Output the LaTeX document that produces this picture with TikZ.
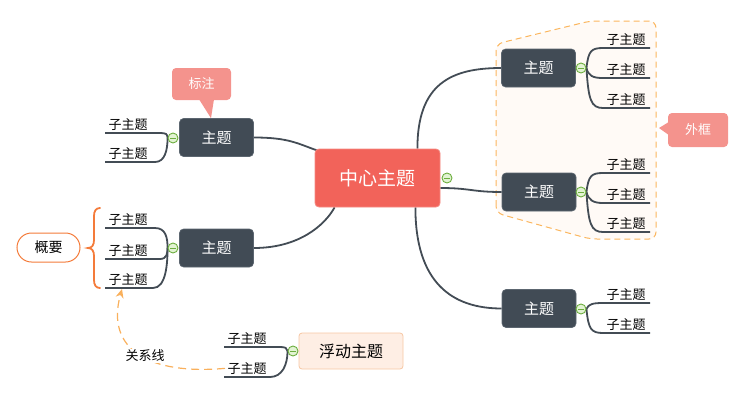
\documentclass[tikz,border=0pt]{standalone}
\usepackage{fontspec}
\newfontfamily\cjk{Noto Sans CJK SC}
\usetikzlibrary{arrows.meta,calc,backgrounds}
\definecolor{topicc}{HTML}{414B55}
\definecolor{topicb}{HTML}{5C6670}
\definecolor{centerc}{HTML}{F2635A}
\definecolor{centerb}{HTML}{F58A82}
\definecolor{callc}{HTML}{F4938D}
\definecolor{linec}{HTML}{434C55}
\definecolor{bracec}{HTML}{F47B3A}
\definecolor{bndc}{HTML}{FBB65E}
\definecolor{bndfill}{HTML}{FFFAF6}
\definecolor{relc}{HTML}{F9B05C}
\definecolor{floatc}{HTML}{FEEEE4}
\definecolor{floatb}{HTML}{F7C7A3}
\definecolor{colc}{HTML}{6DAE3F}
\definecolor{colfill}{HTML}{E2F3D3}
\begin{document}
\begin{tikzpicture}[x=1pt,y=-1pt,
  topicbox/.style={rectangle,rounded corners=4pt,fill=topicc,draw=topicb,line width=0.6pt,
    minimum width=74pt,minimum height=38pt,inner sep=0pt,text=white,font=\cjk\fontsize{15}{18}\selectfont},
  centerbox/.style={rectangle,rounded corners=4pt,fill=centerc,draw=centerb,line width=0.8pt,
    minimum width=125pt,minimum height=58pt,inner sep=0pt,text=white,font=\cjk\fontsize{19}{22}\selectfont},
  subt/.style={inner xsep=0pt,inner ysep=2.5pt,minimum width=46pt,font=\cjk\fontsize{13}{15}\selectfont,anchor=south west},
  conn/.style={draw=linec,line width=1.8pt},
  collapse/.style={circle,minimum size=10pt,inner sep=0pt,draw=colc,fill=colfill,line width=0.9pt,
    path picture={\draw[colc,line width=0.9pt] ([xshift=2.2pt]path picture bounding box.west) -- ([xshift=-2.2pt]path picture bounding box.east);}},
  callbox/.style={rectangle,rounded corners=4pt,fill=callc,inner sep=0pt,text=white,font=\cjk\fontsize{13}{15}\selectfont},
]
\useasboundingbox (0,0) rectangle (740,400);

% main nodes
\node[centerbox] (C) at (377.5,178) {中心主题};
\node[topicbox] (LT) at (216.5,137.5) {主题};
\node[topicbox] (LB) at (216.5,248) {主题};
\node[topicbox] (RT) at (538.5,68) {主题};
\node[topicbox] (RM) at (539,192) {主题};
\node[topicbox] (RB) at (539,308.5) {主题};
\node[rectangle,rounded corners=3pt,fill=floatc,draw=floatb,line width=0.8pt,minimum width=104pt,minimum height=36pt,
  font=\cjk\fontsize{16}{19}\selectfont] (F) at (351,351) {浮动主题};

% collapse buttons
\node[collapse] (cC) at (447,178) {};
\node[collapse] (cLT) at (173,138) {};
\node[collapse] (cLB) at (173,248) {};
\node[collapse] (cRT) at (581,68) {};
\node[collapse] (cRM) at (581,192) {};
\node[collapse] (cRB) at (581,309) {};
\node[collapse] (cF) at (293,351) {};

% subtopics
\node[subt] (lt1) at (105,133) {子主题};
\node[subt] (lt2) at (105,162) {子主题};
\node[subt] (lb1) at (105,228) {子主题};
\node[subt] (lb2) at (105,259) {子主题};
\node[subt] (lb3) at (105,288) {子主题};
\node[subt] (rt1) at (603,48) {子主题};
\node[subt] (rt2) at (603,78) {子主题};
\node[subt] (rt3) at (603,108) {子主题};
\node[subt] (rm1) at (603,173) {子主题};
\node[subt] (rm2) at (603,203) {子主题};
\node[subt] (rm3) at (603,232) {子主题};
\node[subt] (rb1) at (603,303) {子主题};
\node[subt] (rb2) at (603,333) {子主题};
\node[subt] (f1) at (224,347) {子主题};
\node[subt] (f2) at (224,377) {子主题};

% callouts
\node[callbox,minimum width=59pt,minimum height=32pt] (BZ) at (201.5,84) {标注};
\fill[callc] ([xshift=-2.5pt,yshift=1pt]BZ.south) -- ([xshift=-5.5pt]LT.north) -- ([xshift=12.5pt,yshift=1pt]BZ.south) -- cycle;
\node[callbox,minimum width=60pt,minimum height=34pt] (WK) at (698,130) {外框};
\fill[callc] ([yshift=8pt,xshift=1pt]WK.west) -- (659,128) -- ([yshift=-5pt,xshift=1pt]WK.west) -- cycle;

% summary
\node[rectangle,rounded corners=14.5pt,draw=bracec,fill=white,line width=1pt,minimum width=63pt,minimum height=29pt,
  font=\cjk\fontsize{14}{16}\selectfont] (GY) at (48.5,247.5) {概要};
\draw[bracec,line width=1.8pt,line cap=round] (100,208) .. controls (96,208) and (94,211) .. (94,216) -- (94,240)
  .. controls (94,245) and (92,248) .. (88,248) .. controls (92,248) and (94,251) .. (94,256) -- (94,280)
  .. controls (94,285) and (96,288) .. (100,288);

% relationship label
\node[fill=white,inner sep=1pt,font=\cjk\fontsize{13}{15}\selectfont] (RL) at (145,356) {关系线};

\begin{scope}[on background layer]
  % boundary
  \draw[bndc,fill=bndfill,line width=1pt,dash pattern=on 6pt off 4pt,rounded corners=7pt]
    (496,213) -- (496,44) -- (590,21) -- (656,21) -- (656,239) -- (590,239) -- cycle;
  % main branches
  \draw[conn] (LT.east) .. controls +(35,0) and +(-20,-7) .. ([xshift=3pt,yshift=-2pt]C.north west);
  \draw[conn] (LB.east) .. controls +(45,0) and +(-10,18) .. ([xshift=20pt]C.south west);
  \draw[conn] ([xshift=-23pt]C.north east) .. controls +(0,-65) and +(-50,0) .. (RT.west);
  \draw[conn] ([yshift=-10pt]C.east) .. controls +(30,0) and +(-30,0) .. (RM.west);
  \draw[conn] ([xshift=-25pt]C.south east) .. controls +(0,75) and +(-50,0) .. (RB.west);
  % left top subs
  \draw[conn] (lt1.south west) -- ++(55,0) .. controls +(6,0) and +(0,-4) .. (cLT.west);
  \draw[conn] (lt2.south west) -- ++(50,0) .. controls +(10,0) and +(0,12) .. (cLT.west);
  % left bottom subs
  \draw[conn] (lb1.south west) -- ++(50,0) .. controls +(11,0) and +(0,-10) .. (cLB.west);
  \draw[conn] (lb2.south west) -- ++(55,0) .. controls +(7,0) and +(0,5) .. (cLB.west);
  \draw[conn] (lb3.south west) -- ++(48,0) .. controls +(13,0) and +(0,16) .. (cLB.west);
  % right top subs
  \draw[conn] (cRT.east) .. controls +(2,-17) and +(-12,0) .. (rt1.south west) -- ++(47,0);
  \draw[conn] (cRT.east) .. controls +(2,8) and +(-10,0) .. (rt2.south west) -- ++(47,0);
  \draw[conn] (cRT.east) .. controls +(2,32) and +(-12,0) .. (rt3.south west) -- ++(47,0);
  % right middle subs
  \draw[conn] (cRM.east) .. controls +(2,-16) and +(-12,0) .. (rm1.south west) -- ++(47,0);
  \draw[conn] (cRM.east) .. controls +(2,8) and +(-10,0) .. (rm2.south west) -- ++(47,0);
  \draw[conn] (cRM.east) .. controls +(2,32) and +(-12,0) .. (rm3.south west) -- ++(47,0);
  % right bottom subs
  \draw[conn] (cRB.east) .. controls +(2,-5) and +(-10,0) .. (rb1.south west) -- ++(47,0);
  \draw[conn] (cRB.east) .. controls +(2,20) and +(-12,0) .. (rb2.south west) -- ++(47,0);
  % floating subs
  \draw[conn] (f1.south west) -- ++(56,0) .. controls +(5,0) and +(0,-3) .. (cF.west);
  \draw[conn] (f2.south west) -- ++(46,0) .. controls +(12,0) and +(0,14) .. (cF.west);
  % relationship
  \draw[relc,line width=1.2pt,dash pattern=on 8pt off 5pt,-{Stealth[length=9pt,width=8pt]}]
    ([xshift=1pt]f2.west) .. controls (150,375) and (105,350) .. ([xshift=17pt,yshift=-1pt]lb3.south west);
\end{scope}
\end{tikzpicture}
\end{document}
